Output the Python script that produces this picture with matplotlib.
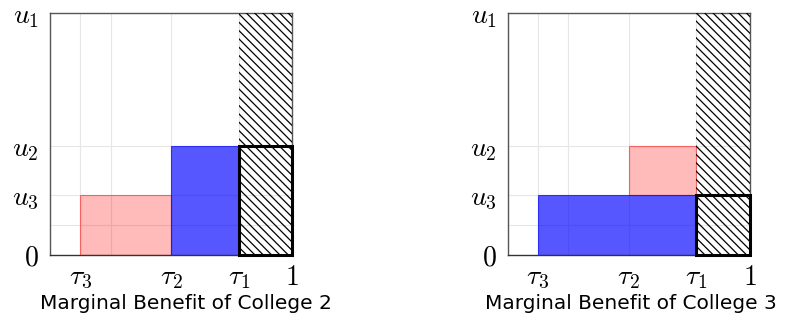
import numpy as np
import matplotlib.pyplot as plt

plt.rcParams['mathtext.fontset'] = 'cm'
plt.rcParams['hatch.linewidth'] = 0.9

# thresholds on the x axis and utility levels on the y axis
tau3, tau2, tau1 = 0.125, 0.5, 0.78
u3, u2, u1 = 0.25, 0.45, 1.0

xtick_pos = [tau3, tau2, tau1, 1.0]
xtick_lab = [r'$\tau_3$', r'$\tau_2$', r'$\tau_1$', r'$1$']
ytick_pos = [0.0, u3, u2, u1]
ytick_lab = [r'$0$', r'$u_3$', r'$u_2$', r'$u_1$']
xgrid = [tau3, 0.25, tau2, tau1]
ygrid = [0.125, u3, u2]

# panel 1 (college 2): red block, blue block, boxed region height
p1_red = (tau3, tau2, 0.0, u3)
p1_blue = (tau2, tau1, 0.0, u2)
p1_box = u2
# panel 2 (college 3)
p2_red = (tau2, tau1, u3, u2)
p2_blue = (tau3, tau1, 0.0, u3)
p2_box = u3

titles = ['Marginal Benefit of College 2', 'Marginal Benefit of College 3']
panels = [(p1_red, p1_blue, p1_box), (p2_red, p2_blue, p2_box)]
lefts = [50 / 794, 507.7 / 794]
label_x = [0.562, 0.508]

fig = plt.figure(figsize=(7.94, 3.23), dpi=100)

for i in range(2):
    red, blue, box = panels[i]
    ax = fig.add_axes([lefts[i], 68 / 323, 242 / 794, 242 / 323])
    ax.set_xlim(0, 1)
    ax.set_ylim(0, u1)
    for g in xgrid:
        ax.axvline(g, color='#e6e6e6', lw=0.8, zorder=0)
    for g in ygrid:
        ax.axhline(g, color='#e6e6e6', lw=0.8, zorder=0)

    ax.bar(red[0], red[3] - red[2], width=red[1] - red[0], bottom=red[2], align='edge',
           color=(1, 0, 0, 0.27), edgecolor=(1, 0, 0, 0.5), lw=0.8, zorder=2)
    ax.bar(blue[0], blue[3] - blue[2], width=blue[1] - blue[0], bottom=blue[2], align='edge',
           color=(0, 0, 1, 0.66), edgecolor=(0, 0, 1, 0.7), lw=0.8, zorder=2)
    # hatched region from tau1 to 1
    ax.bar(tau1, u1, width=1 - tau1, align='edge', facecolor='none',
           edgecolor='black', hatch='\\\\\\\\', lw=0, zorder=3)
    ax.bar(tau1, box, width=1 - tau1, align='edge', facecolor='none',
           edgecolor='black', lw=2.2, zorder=4, clip_on=False)

    for s in ax.spines.values():
        s.set_color('#555555')
        s.set_linewidth(1.0)
    ax.spines['bottom'].set_color('#333333')

    ax.set_xticks(xtick_pos)
    ax.set_xticklabels(xtick_lab, fontsize=20)
    ax.set_yticks(ytick_pos)
    ax.set_yticklabels(ytick_lab, fontsize=20)
    ax.tick_params(length=0, pad=6)
    ax.tick_params(axis='y', pad=8)
    ax.set_xlabel(titles[i], family='DejaVu Sans', fontsize=14.5)
    ax.xaxis.set_label_coords(label_x[i], -0.16)

fig.savefig('out.png', dpi=100)
